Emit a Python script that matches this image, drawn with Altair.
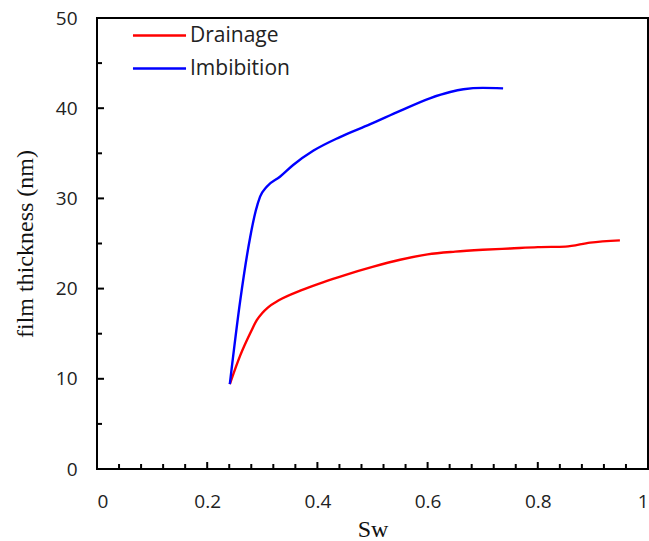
import altair as alt
import pandas as pd

# Water saturation vs. film thickness along the drainage and imbibition paths
sw_drainage = [0.241, 0.26, 0.28, 0.29, 0.30, 0.31, 0.33, 0.37, 0.41, 0.45, 0.50,
               0.55, 0.60, 0.65, 0.70, 0.75, 0.80, 0.85, 0.895, 0.949]
film_drainage = [9.4, 12.6, 15.3, 16.5, 17.3, 17.9, 18.7, 19.8, 20.7, 21.5, 22.4,
                 23.2, 23.8, 24.1, 24.3, 24.45, 24.6, 24.65, 25.1, 25.35]

sw_imbibition = [0.241, 0.26, 0.278, 0.288, 0.296, 0.308, 0.332, 0.356, 0.393,
                 0.441, 0.495, 0.55, 0.604, 0.641, 0.665, 0.70, 0.737]
film_imbibition = [9.4, 18.7, 25.7, 28.6, 30.2, 31.3, 32.4, 33.7, 35.3,
                   36.8, 38.2, 39.7, 41.1, 41.8, 42.1, 42.25, 42.2]

series_names = ["Drainage", "Imbibition"]
series_colors = ["#ff0000", "#0000ff"]

x_major = [0, 0.2, 0.4, 0.6, 0.8, 1.0]
x_minor = [round(0.04 * i, 2) for i in range(26) if i % 5 != 0]
y_major = [0, 10, 20, 30, 40, 50]
y_minor = [5, 15, 25, 35, 45]

rows = []
for s, f in zip(sw_drainage, film_drainage):
    rows.append({"Sw": s, "film": f, "series": "Drainage"})
for s, f in zip(sw_imbibition, film_imbibition):
    rows.append({"Sw": s, "film": f, "series": "Imbibition"})
curves = pd.DataFrame(rows)

W, H = 551, 451

x_scale = alt.Scale(domain=[0, 1], nice=False, zero=False)
y_scale = alt.Scale(domain=[0, 50], nice=False)

x_axis = alt.Axis(values=x_major, format="~g", title="Sw", labelPadding=23,
                  titlePadding=6)
y_axis = alt.Axis(values=y_major, format="~g", title="film thickness (nm)",
                  labelPadding=20, titlePadding=18)

lines = alt.Chart(curves).mark_line(strokeWidth=2.4, interpolate="monotone").encode(
    x=alt.X("Sw:Q", scale=x_scale, axis=x_axis),
    y=alt.Y("film:Q", scale=y_scale, axis=y_axis),
    color=alt.Color(
        "series:N",
        scale=alt.Scale(domain=series_names, range=series_colors),
        legend=alt.Legend(
            title=None, orient="none", legendX=52, legendY=7,
            symbolType="M-4,0H4", symbolSize=176, symbolStrokeWidth=2.4,
            symbolFillColor="transparent",
            labelFont="Open Sans", labelFontSize=21, labelColor="#222222",
            labelOffset=20, rowPadding=11,
        ),
    ),
    order="Sw:Q",
)

def x_ticks(vals, length):
    return alt.Chart(pd.DataFrame({"v": vals})).mark_rule(
        color="black", strokeWidth=2
    ).encode(x=alt.X("v:Q", scale=x_scale), y=alt.value(H), y2=alt.value(H - length))

def y_ticks(vals, length):
    return alt.Chart(pd.DataFrame({"v": vals})).mark_rule(
        color="black", strokeWidth=2
    ).encode(y=alt.Y("v:Q", scale=y_scale), x=alt.value(0), x2=alt.value(length))

chart = alt.layer(
    x_ticks(x_minor, 5), x_ticks(x_major, 7),
    y_ticks(y_minor, 5), y_ticks(y_major, 7),
    lines,
).properties(
    width=W, height=H,
    autosize=alt.AutoSizeParams(type="none"),
    padding={"left": 97, "top": 18, "right": 1, "bottom": 72},
    background="white",
).configure_view(
    stroke="black", strokeWidth=2
).configure_axis(
    grid=False, ticks=False, domain=False,
    labelFont="Open Sans", labelFontSize=19, labelColor="#222222",
    titleFont="Liberation Serif", titleFontSize=24, titleFontWeight="normal",
    titleColor="#111111",
)

chart.save("out.html", embed_options={"renderer": "svg", "actions": False})
